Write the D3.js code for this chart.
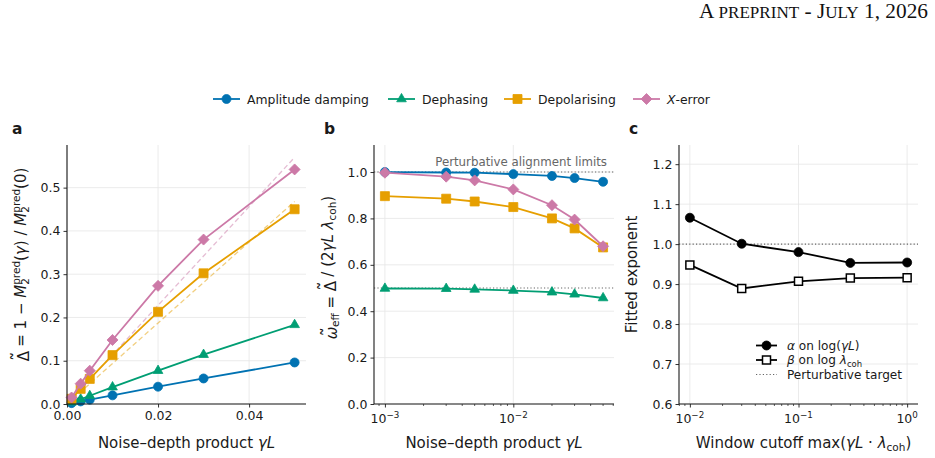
<!DOCTYPE html>
<html><head><meta charset="utf-8">
<script src="https://cdn.jsdelivr.net/npm/d3@7"></script>
<style>
body{margin:0;background:#fff}
text{font-family:"DejaVu Sans",sans-serif;fill:#1a1a1a}
</style>
</head><body>
<svg id="chart" width="935" height="458"></svg>
<script>
// ---------------- data ----------------
const gammaL = [0.001, 0.003, 0.005, 0.01, 0.02, 0.03, 0.05];
const seriesNames = ["Amplitude damping", "Dephasing", "Depolarising", "X-error"];
const seriesColors = ["#0072B2", "#009E73", "#E69F00", "#CC79A7"];
const seriesSymbols = ["circle", "triangle", "square", "diamond"];

// panel a: normalised drop
const deltaAmp   = [0.002, 0.006, 0.010, 0.020, 0.040, 0.059, 0.096];
const deltaDeph  = [0.004, 0.011, 0.019, 0.039, 0.077, 0.114, 0.183];
const deltaDepol = [0.012, 0.035, 0.058, 0.113, 0.213, 0.302, 0.450];
const deltaXerr  = [0.015, 0.047, 0.077, 0.148, 0.273, 0.380, 0.542];
// perturbative reference lines (dashed)
const refGammaL  = [0, 0.05];
const refDepol   = [0, 0.468];
const refXerr    = [0, 0.570];

// panel b: effective alignment
const omegaAmp   = [1.000, 0.998, 0.997, 0.991, 0.983, 0.974, 0.958];
const omegaDeph  = [0.498, 0.497, 0.494, 0.489, 0.482, 0.473, 0.457];
const omegaDepol = [0.896, 0.885, 0.873, 0.849, 0.800, 0.757, 0.675];
const omegaXerr  = [0.997, 0.980, 0.964, 0.925, 0.857, 0.795, 0.680];
const alignLimits = [1.0, 0.5];

// panel c: fitted exponents
const cutoffs  = [0.01, 0.03, 0.1, 0.3, 1.0];
const alphaFit = [1.066, 1.001, 0.980, 0.953, 0.954];
const betaFit  = [0.948, 0.889, 0.907, 0.915, 0.916];
const perturbTarget = 1.0;

// ticks
const ticksAx = [0, 0.02, 0.04];
const ticksAy = [0, 0.1, 0.2, 0.3, 0.4, 0.5];
const ticksBx = [1e-3, 1e-2];
const ticksBy = [0, 0.2, 0.4, 0.6, 0.8, 1.0];
const ticksCx = [1e-2, 1e-1, 1e0];
const ticksCy = [0.6, 0.7, 0.8, 0.9, 1.0, 1.1, 1.2];

// ---------------- helpers ----------------
const svg = d3.select("#chart");
const TOP = 145, BOT = 404;
const TICK_FS = 12.5, LABEL_FS = 15, LEG_FS = 12.4;

function rich(text, parts, fs) {
  let cur = 0;
  parts.forEach(p => {
    if (typeof p === "string") p = {t: p};
    if (p.sub !== undefined || p.sup !== undefined) {
      let w = 0;
      if (p.sub !== undefined) {
        const off = fs * 0.2;
        const ts = text.append("tspan").attr("font-size", fs * 0.7).attr("dy", off - cur).text(p.sub);
        cur = off;
        w = ts.node().getComputedTextLength();
      }
      if (p.sup !== undefined) {
        const off = -fs * 0.42;
        const ts = text.append("tspan").attr("font-size", fs * 0.7).attr("dy", off - cur).text(p.sup);
        if (w) ts.attr("dx", -w);
        cur = off;
      }
    } else if (p.tilde) {
      const ts = text.append("tspan").attr("dy", -cur).text(p.t);
      if (p.i) ts.attr("font-style", "italic");
      cur = 0;
      const w = ts.node().getComputedTextLength();
      const acc = text.append("tspan").attr("font-size", fs * 1.25).text("\u02DC");
      const wa = acc.node().getComputedTextLength();
      const lift = -fs * (p.lift || 0.2);
      acc.attr("dx", -(w / 2 + wa / 2) + (p.i ? fs * 0.08 : 0)).attr("dy", lift);
      cur = lift;
      text.append("tspan").attr("dy", -cur).attr("dx", w / 2 - wa / 2 - (p.i ? fs * 0.08 : 0)).text("");
      cur = 0;
    } else {
      const ts = text.append("tspan").attr("dy", -cur).text(p.t);
      if (p.i) ts.attr("font-style", "italic");
      cur = 0;
    }
  });
  return text;
}

function symbolPath(type, size) {
  if (type === "circle") return d3.symbol(d3.symbolCircle, Math.PI * (size / 2) ** 2)();
  if (type === "square") return d3.symbol(d3.symbolSquare, size * size)();
  if (type === "triangle") return d3.symbol(d3.symbolTriangle, size * size * 0.5)();
  if (type === "diamond") { const s = size / Math.SQRT2; return d3.symbol(d3.symbolSquare, s * s)(); }
}
function drawMarker(g, type, x, y, color, size, fill) {
  return g.append("path").attr("d", symbolPath(type, size))
    .attr("transform", `translate(${x},${y})` + (type === "diamond" ? " rotate(45)" : ""))
    .attr("fill", fill || color).attr("stroke", color).attr("stroke-width", fill ? 1.5 : 0.8);
}

function drawGrid(g, x, y, xt, yt, left, right) {
  const grid = g.append("g");
  xt.forEach(v => grid.append("line").attr("x1", x(v)).attr("x2", x(v)).attr("y1", TOP).attr("y2", BOT)
    .attr("stroke", "#e6e6e6").attr("stroke-width", 0.8));
  yt.forEach(v => grid.append("line").attr("x1", left).attr("x2", right).attr("y1", y(v)).attr("y2", y(v))
    .attr("stroke", "#e6e6e6").attr("stroke-width", 0.8));
}

function drawSpines(g, x, y, xt, yt, xfmt, yfmt, log, left, right) {
  const ax = g.append("g");
  const ya = d3.axisLeft(y).tickValues(yt).tickSize(3.5).tickPadding(3).tickFormat(yfmt);
  const yg = ax.append("g").attr("transform", `translate(${left},0)`).call(ya);
  yg.select(".domain").remove();
  yg.selectAll("text").attr("font-size", TICK_FS).attr("font-family", "DejaVu Sans").attr("fill", "#1a1a1a");
  yg.selectAll("line").attr("stroke", "#1a1a1a").attr("stroke-width", 0.9);
  const xa = d3.axisBottom(x).tickValues(xt).tickSize(3.5).tickPadding(4);
  if (xfmt) xa.tickFormat(xfmt); else xa.tickFormat("");
  const xg = ax.append("g").attr("transform", `translate(0,${BOT})`).call(xa);
  xg.select(".domain").remove();
  xg.selectAll("text").attr("font-size", TICK_FS).attr("font-family", "DejaVu Sans").attr("fill", "#1a1a1a");
  xg.selectAll("line").attr("stroke", "#1a1a1a").attr("stroke-width", 0.9);
  if (log) {
    const [d0, d1] = x.domain();
    const minors = [];
    for (let e = Math.floor(Math.log10(d0)); e <= Math.ceil(Math.log10(d1)); e++)
      for (let m = 2; m <= 9; m++) { const v = m * 10 ** e; if (v >= d0 && v <= d1) minors.push(v); }
    minors.forEach(v => ax.append("line").attr("x1", x(v)).attr("x2", x(v)).attr("y1", BOT).attr("y2", BOT + 2)
      .attr("stroke", "#1a1a1a").attr("stroke-width", 0.7));
    xt.forEach(v => {
      const e = Math.round(Math.log10(v));
      const t = ax.append("text").attr("x", x(v)).attr("y", BOT + 19).attr("text-anchor", "middle")
        .attr("font-size", TICK_FS);
      rich(t, ["10", {sup: e < 0 ? "\u2212" + (-e) : String(e)}], TICK_FS);
    });
  }
  ax.append("line").attr("x1", left).attr("x2", left).attr("y1", TOP).attr("y2", BOT)
    .attr("stroke", "#1a1a1a").attr("stroke-width", 1.1);
  ax.append("line").attr("x1", left).attr("x2", right).attr("y1", BOT).attr("y2", BOT)
    .attr("stroke", "#1a1a1a").attr("stroke-width", 1.1);
}

// ---------------- header (manual small caps, fixed width) ----------------
{
  const H = 20;
  const t = svg.append("text").attr("x", 699).attr("y", 18)
    .attr("textLength", 229).attr("lengthAdjust", "spacingAndGlyphs")
    .attr("font-family", "Liberation Serif, Times New Roman, serif")
    .style("font-family", "'Liberation Serif', serif").style("fill", "#111").attr("font-size", H);
  const bits = [["A ", 1], ["PREPRINT", 0.8], [" - J", 1], ["ULY", 0.8], [" 1, 2026", 1]];
  bits.forEach(([s, f]) => t.append("tspan").attr("font-size", H * f).text(s));
}

// ---------------- top legend ----------------
const legX = [213, 388, 504, 633];
seriesNames.forEach((name, i) => {
  const g = svg.append("g");
  g.append("line").attr("x1", legX[i]).attr("x2", legX[i] + 27).attr("y1", 99).attr("y2", 99)
    .attr("stroke", seriesColors[i]).attr("stroke-width", 1.8);
  drawMarker(g, seriesSymbols[i], legX[i] + 13.5, 99, seriesColors[i], seriesSymbols[i] === "diamond" ? 11 : 9);
  const t = g.append("text").attr("x", legX[i] + 34).attr("y", 103.5).attr("font-size", LEG_FS);
  if (name === "X-error") rich(t, [{t: "X", i: true}, "-error"], LEG_FS);
  else t.text(name);
});

// ---------------- panel a ----------------
{
  const L = 67, R = 306;
  const x = d3.scaleLinear().domain([0, 0.0525]).range([L, R]);
  const y = d3.scaleLinear().domain([0, 0.5985]).range([BOT, TOP]);
  const g = svg.append("g");
  drawGrid(g, x, y, ticksAx, ticksAy, L, R);
  [[refDepol, seriesColors[2]], [refXerr, seriesColors[3]]].forEach(([vals, c]) => {
    g.append("path").attr("d", d3.line().x((d, k) => x(refGammaL[k])).y(d => y(d))(vals))
      .attr("fill", "none").attr("stroke", c).attr("stroke-opacity", 0.5).attr("stroke-width", 1.3)
      .attr("stroke-dasharray", "5,3");
  });
  [deltaAmp, deltaDeph, deltaDepol, deltaXerr].forEach((vals, i) => {
    g.append("path").attr("d", d3.line().x((d, k) => x(gammaL[k])).y(d => y(d))(vals))
      .attr("fill", "none").attr("stroke", seriesColors[i]).attr("stroke-width", 1.8);
    vals.forEach((v, k) => drawMarker(g, seriesSymbols[i], x(gammaL[k]), y(v), seriesColors[i],
      seriesSymbols[i] === "diamond" ? 11 : 9));
  });
  drawSpines(g, x, y, ticksAx, ticksAy, d3.format(".2f"), d3.format(".1f"), false, L, R);
  svg.append("text").attr("x", 12).attr("y", 134).attr("font-size", 15.5).attr("font-weight", "bold").text("a");
  const xl = svg.append("text").attr("x", (L + R) / 2).attr("y", 448).attr("text-anchor", "middle").attr("font-size", LABEL_FS);
  rich(xl, ["Noise\u2013depth product ", {t: "\u03B3L", i: true}], LABEL_FS);
  const yl = svg.append("text").attr("transform", `translate(29,${(TOP + BOT) / 2 - 10}) rotate(-90)`)
    .attr("text-anchor", "middle").attr("font-size", LABEL_FS);
  rich(yl, [{t: "\u0394", tilde: true}, " = 1 \u2212 ", {t: "M", i: true}, {sub: "2", sup: "pred"}, "(", {t: "\u03B3", i: true}, ") / ",
    {t: "M", i: true}, {sub: "2", sup: "pred"}, "(0)"], LABEL_FS);
}

// ---------------- panel b ----------------
{
  const L = 374, R = 614;
  const x = d3.scaleLog().domain([10 ** -3.085, 10 ** -1.216]).range([L, R]);
  const y = d3.scaleLinear().domain([0, 1.1165]).range([BOT, TOP]);
  const g = svg.append("g");
  drawGrid(g, x, y, ticksBx, ticksBy, L, R);
  alignLimits.forEach(v => g.append("line").attr("x1", L).attr("x2", R).attr("y1", y(v)).attr("y2", y(v))
    .attr("stroke", "#666").attr("stroke-width", 1.1).attr("stroke-dasharray", "1.2,2.2"));
  g.append("text").attr("x", 607).attr("y", 166).attr("text-anchor", "end").attr("font-size", 11.8)
    .style("fill", "#666").text("Perturbative alignment limits");
  [omegaAmp, omegaDeph, omegaDepol, omegaXerr].forEach((vals, i) => {
    g.append("path").attr("d", d3.line().x((d, k) => x(gammaL[k])).y(d => y(d))(vals))
      .attr("fill", "none").attr("stroke", seriesColors[i]).attr("stroke-width", 1.8);
    vals.forEach((v, k) => drawMarker(g, seriesSymbols[i], x(gammaL[k]), y(v), seriesColors[i],
      seriesSymbols[i] === "diamond" ? 11 : 9));
  });
  drawSpines(g, x, y, ticksBx, ticksBy, null, d3.format(".1f"), true, L, R);
  svg.append("text").attr("x", 324).attr("y", 134).attr("font-size", 15.5).attr("font-weight", "bold").text("b");
  const xl = svg.append("text").attr("x", (L + R) / 2).attr("y", 448).attr("text-anchor", "middle").attr("font-size", LABEL_FS);
  rich(xl, ["Noise\u2013depth product ", {t: "\u03B3L", i: true}], LABEL_FS);
  const yl = svg.append("text").attr("transform", `translate(337,${(TOP + BOT) / 2 - 7}) rotate(-90)`)
    .attr("text-anchor", "middle").attr("font-size", LABEL_FS);
  rich(yl, [{t: "\u03C9", i: true, tilde: true, lift: 0.05}, {sub: "eff"}, " = ", {t: "\u0394", tilde: true}, " / (2",
    {t: "\u03B3L", i: true}, " ", {t: "\u03BB", i: true}, {sub: "coh"}, ")"], LABEL_FS);
}

// ---------------- panel c ----------------
{
  const L = 679, R = 918;
  const x = d3.scaleLog().domain([10 ** -2.1, 10 ** 0.1]).range([L, R]);
  const y = d3.scaleLinear().domain([0.6, 1.248]).range([BOT, TOP]);
  const g = svg.append("g");
  drawGrid(g, x, y, ticksCx, ticksCy, L, R);
  g.append("line").attr("x1", L).attr("x2", R).attr("y1", y(perturbTarget)).attr("y2", y(perturbTarget))
    .attr("stroke", "#666").attr("stroke-width", 1.1).attr("stroke-dasharray", "1.2,2.2");
  const lineGen = d3.line().x((d, k) => x(cutoffs[k])).y(d => y(d));
  g.append("path").attr("d", lineGen(alphaFit)).attr("fill", "none").attr("stroke", "#000").attr("stroke-width", 1.8);
  g.append("path").attr("d", lineGen(betaFit)).attr("fill", "none").attr("stroke", "#000").attr("stroke-width", 1.8);
  alphaFit.forEach((v, k) => drawMarker(g, "circle", x(cutoffs[k]), y(v), "#000", 9));
  betaFit.forEach((v, k) => drawMarker(g, "square", x(cutoffs[k]), y(v), "#000", 8, "#fff"));
  drawSpines(g, x, y, ticksCx, ticksCy, null, d3.format(".1f"), true, L, R);
  svg.append("text").attr("x", 629).attr("y", 134).attr("font-size", 15.5).attr("font-weight", "bold").text("c");
  const xl = svg.append("text").attr("x", (L + R) / 2 + 5).attr("y", 448).attr("text-anchor", "middle").attr("font-size", LABEL_FS);
  rich(xl, ["Window cutoff max(", {t: "\u03B3L", i: true}, " \u00B7 ", {t: "\u03BB", i: true}, {sub: "coh"}, ")"], LABEL_FS);
  svg.append("text").attr("transform", `translate(637,${(TOP + BOT) / 2}) rotate(-90)`)
    .attr("text-anchor", "middle").attr("font-size", LABEL_FS).text("Fitted exponent");
  // legend
  const LF = 12.1;
  const lg = svg.append("g");
  const rows = [345.5, 360, 374.5];
  lg.append("line").attr("x1", 756).attr("x2", 777).attr("y1", rows[0]).attr("y2", rows[0]).attr("stroke", "#000").attr("stroke-width", 1.8);
  drawMarker(lg, "circle", 766.5, rows[0], "#000", 9);
  lg.append("line").attr("x1", 756).attr("x2", 777).attr("y1", rows[1]).attr("y2", rows[1]).attr("stroke", "#000").attr("stroke-width", 1.8);
  drawMarker(lg, "square", 766.5, rows[1], "#000", 8, "#fff");
  lg.append("line").attr("x1", 756).attr("x2", 777).attr("y1", rows[2]).attr("y2", rows[2]).attr("stroke", "#666")
    .attr("stroke-width", 1.1).attr("stroke-dasharray", "1.2,2.2");
  const t1 = lg.append("text").attr("x", 787).attr("y", rows[0] + 4.3).attr("font-size", LF);
  rich(t1, [{t: "\u03B1", i: true}, " on log(", {t: "\u03B3L", i: true}, ")"], LF);
  const t2 = lg.append("text").attr("x", 787).attr("y", rows[1] + 4.3).attr("font-size", LF);
  rich(t2, [{t: "\u03B2", i: true}, " on log ", {t: "\u03BB", i: true}, {sub: "coh"}], LF);
  lg.append("text").attr("x", 787).attr("y", rows[2] + 4.3).attr("font-size", LF).text("Perturbative target");
}
</script>
</body></html>
